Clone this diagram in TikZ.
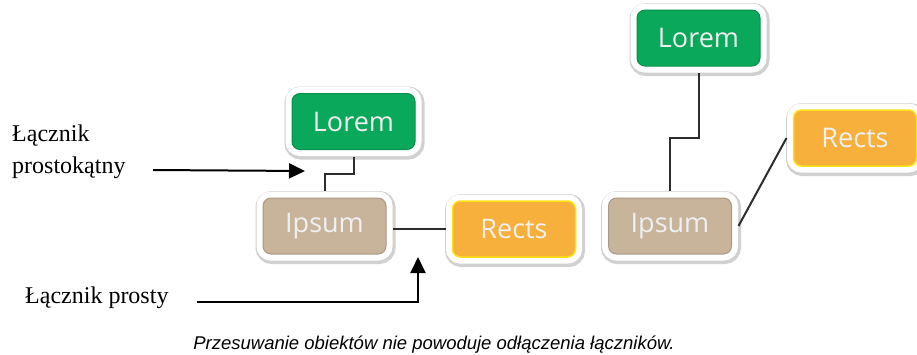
\documentclass[tikz,border=0pt]{standalone}
\usepackage{fontspec}
\setmainfont{Liberation Serif}
\newfontfamily\boxfont{Open Sans}
\newfontfamily\capfont{Liberation Sans}
\usetikzlibrary{arrows.meta,calc}
\definecolor{boxgreen}{RGB}{10,168,90}
\definecolor{boxbrown}{RGB}{200,180,155}
\definecolor{boxorange}{RGB}{248,176,60}
\definecolor{boxyellow}{RGB}{255,225,20}
\definecolor{conn}{RGB}{45,45,45}
\tikzset{
  box/.style={rounded corners=8pt, minimum width=123pt, minimum height=56pt,
    inner sep=0pt, outer sep=7pt, text=white!94!black, line width=1pt,
    font=\boxfont\fontsize{27}{32}\selectfont,
    preaction={draw=black!18, line width=17pt, transform canvas={shift={(1pt,-1.5pt)}}},
    preaction={draw=white, line width=13pt}},
  greenbox/.style={box, fill=boxgreen, draw=boxgreen!85!black},
  brownbox/.style={box, fill=boxbrown, draw=boxbrown!85!black},
  orangebox/.style={box, fill=boxorange, draw=boxyellow, line width=1.5pt},
  link/.style={draw=conn, line width=2pt},
  pointer/.style={draw=black, line width=2pt, -{Triangle[length=16pt,width=15pt]}},
  label/.style={inner sep=0pt, font=\fontsize{24}{32}\selectfont},
}
\begin{document}
\begin{tikzpicture}[x=1pt,y=-1pt]
\useasboundingbox[fill=white] (0,0) rectangle (917,354);
\begin{scope}
\clip (0,0) rectangle (917,354);
% left group
\node[greenbox]  (LoremL) at (353.5,121.5) {Lorem};
\node[brownbox]  (IpsumL) at (324.5,226)   {Ipsum};
\node[orangebox] (RectsL) at (514,229)     {Rects};
% right group
\node[greenbox]  (LoremR) at (698.5,38)    {Lorem};
\node[brownbox]  (IpsumR) at (670,226)     {Ipsum};
\node[orangebox] (RectsR) at (855,138)     {Rects};
\end{scope}
% connectors
\draw[link] (LoremL.south) |- ($(LoremL.south)!0.5!(IpsumL.north)$) -| (IpsumL.north);
\draw[link] (RectsL.west) -- (RectsL.west -| IpsumL.east);
\draw[link] (LoremR.south) |- ($(LoremR.south)!0.55!(IpsumR.north)$) -| (IpsumR.north);
\draw[link] (IpsumR.east) -- (RectsR.west);
% labels
\node[label, anchor=west, align=left] (lab1) at (12,152) {Łącznik\\prostokątny};
\node[label, anchor=base west] (lab2) at (25,303) {Łącznik prosty};
\coordinate (p1s) at (153,170);
\coordinate (p1e) at (305,171);
\coordinate (p2s) at (197,302);
\coordinate (p2e) at (418,257);
\draw[pointer] (p1s) -- (p1e);
\draw[pointer] (p2s) -| (p2e);
\node[inner sep=0pt, anchor=base, font=\capfont\itshape\fontsize{18.5}{22}\selectfont] (cap) at (434,349.5)
  {Przesuwanie obiektów nie powoduje odłączenia łączników.};
\end{tikzpicture}
\end{document}
